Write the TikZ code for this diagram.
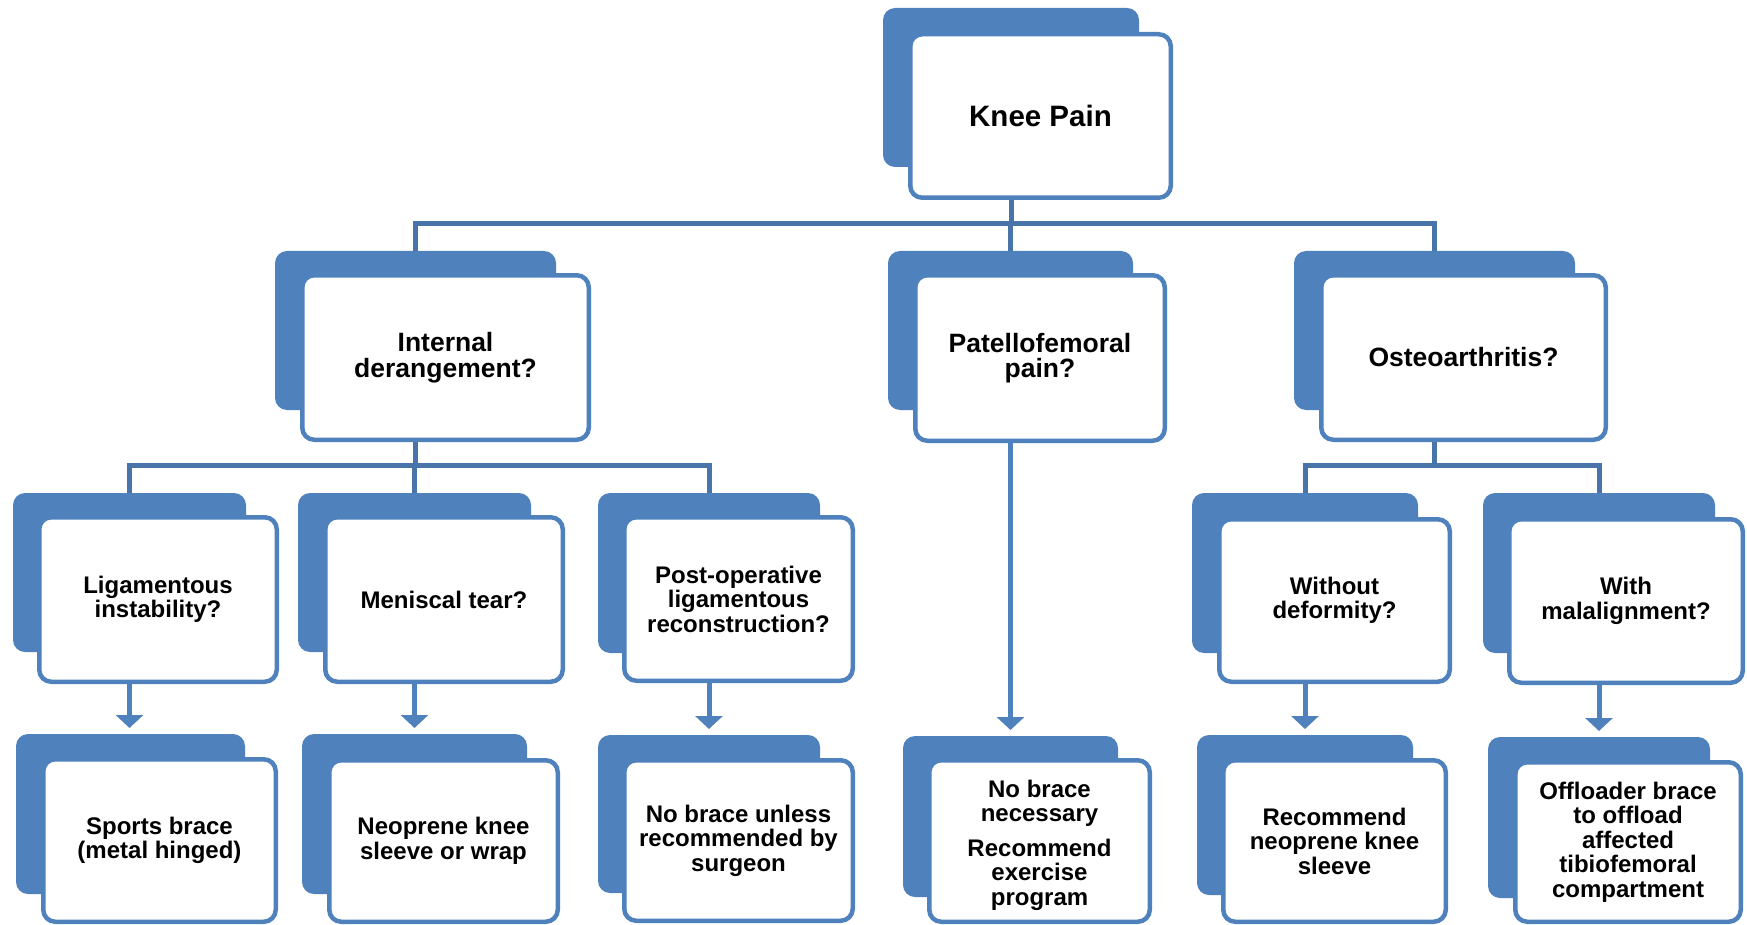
\documentclass[tikz,border=0pt]{standalone}
\usepackage{fontspec}
\setmainfont{Liberation Sans}
\usetikzlibrary{arrows.meta}
\definecolor{acc}{HTML}{4F81BD}
\definecolor{connc}{HTML}{4874AA}
\tikzset{
  backbox/.style n args={4}{fill=acc, draw=none, rounded corners=12pt, inner sep=0pt, outer sep=0pt,
    minimum width={(#3-#1)*1pt}, minimum height={(#4-#2)*1pt},
    at={({(#1+#3)/2},{(#2+#4)/2})}},
  frontbox/.style n args={4}{fill=white, draw=acc, line width=4.5pt, rounded corners=12pt, inner sep=0pt,
    minimum width={(#3-#1-4.5)*1pt}, minimum height={(#4-#2-4.5)*1pt},
    at={({(#1+#3)/2},{(#2+#4)/2})}, align=center, text=black},
  fbig/.style={font=\bfseries\fontsize{29.5}{32}\selectfont},
  fmid/.style={font=\bfseries\fontsize{26.5}{25.5}\selectfont},
  fsmall/.style={font=\bfseries\fontsize{24}{24.5}\selectfont},
  cline/.style={draw=connc, line width=5pt, line join=miter},
  arrowline/.style={draw=acc, line width=5pt, -{Triangle[width=27pt,length=13pt]}, shorten >=6pt},
}
\begin{document}
\begin{tikzpicture}[x=1pt,y=-1pt]
\useasboundingbox (0,0) rectangle (1747,925);
\coordinate (bar1) at (0,224);
\coordinate (bar2) at (0,465);
% level 1
\node[backbox={883}{8}{1139}{167}] (kpB) {};
\node[frontbox={908}{32}{1173}{200}, fbig] (kp) {Knee Pain};
% level 2
\node[backbox={275}{251}{556}{410}] (idB) {};
\node[frontbox={300}{273}{591}{442}, fmid] (id) {Internal\\derangement?};
\node[backbox={888}{251}{1133}{410}] (pfB) {};
\node[frontbox={913}{273}{1167}{443}, fmid] (pf) {Patellofemoral\\pain?};
\node[backbox={1294}{251}{1575}{410}] (oaB) {};
\node[frontbox={1319}{273}{1608}{442}, fmid] (oa) {Osteoarthritis?};
% level 3
\node[backbox={13}{493}{246}{652}] (ligB) {};
\node[frontbox={37}{515}{279}{684}, fsmall] (lig) {Ligamentous\\instability?};
\node[backbox={298}{493}{531}{652}] (menB) {};
\node[frontbox={323}{515}{565}{684}, fsmall] (men) {Meniscal tear?};
\node[backbox={598}{493}{820}{653}] (postB) {};
\node[frontbox={622}{515}{855}{683}, fsmall] (post) {Post-operative\\ligamentous\\reconstruction?};
\node[backbox={1192}{493}{1418}{653}] (woB) {};
\node[frontbox={1217}{517}{1452}{684}, fsmall] (wo) {Without\\deformity?};
\node[backbox={1483}{493}{1715}{653}] (wiB) {};
\node[frontbox={1507}{517}{1745}{685}, fsmall] (wi) {With\\malalignment?};
% level 4
\node[backbox={16}{734}{245}{894}] (spB) {};
\node[frontbox={41}{757}{278}{924}, fsmall] (sp) {Sports brace\\(metal hinged)};
\node[backbox={302}{734}{527}{894}] (neoB) {};
\node[frontbox={327}{758}{560}{924}, fsmall] (neo) {Neoprene knee\\sleeve or wrap};
\node[backbox={598}{735}{820}{893}] (nbuB) {};
\node[frontbox={622}{758}{855}{923}, fsmall] (nbu) {No brace unless\\recommended by\\surgeon};
\node[backbox={903}{736}{1118}{897}] (nbnB) {};
\node[frontbox={927}{758}{1152}{924}, fsmall] (nbn) {\rule{0pt}{26pt}No brace\\necessary\\[10pt]Recommend\\exercise\\program};
\node[backbox={1197}{735}{1413}{895}] (rnB) {};
\node[frontbox={1221}{758}{1448}{924}, fsmall] (rn) {Recommend\\neoprene knee\\sleeve};
\node[backbox={1488}{737}{1710}{898}] (offB) {};
\node[frontbox={1513}{760}{1743}{924}, fsmall] (off) {Offloader brace\\to offload\\affected\\tibiofemoral\\compartment};
% connectors level 1 -> 2
\draw[cline] (kp.south -| kpB.center) -- (kpB.center |- bar1);
\draw[cline] (idB.north) -- (idB.center |- bar1) -- (oaB.center |- bar1) -- (oaB.north);
\draw[cline] (pfB.center |- bar1) -- (pfB.north);
% connectors internal derangement -> level 3
\draw[cline] (id.south -| idB.center) -- (idB.center |- bar2);
\draw[cline] (ligB.north) -- (ligB.center |- bar2) -- (postB.center |- bar2) -- (postB.north);
\draw[cline] (menB.center |- bar2) -- (menB.north);
% connectors osteoarthritis -> level 3
\draw[cline] (oa.south -| oaB.center) -- (oaB.center |- bar2);
\draw[cline] (woB.north) -- (woB.center |- bar2) -- (wiB.center |- bar2) -- (wiB.north);
% arrows to level 4
\draw[arrowline] (lig.south -| ligB.center) -- (spB.north -| ligB.center);
\draw[arrowline] (men.south -| menB.center) -- (neoB.north -| menB.center);
\draw[arrowline] (post.south -| postB.center) -- (nbuB.north -| postB.center);
\draw[arrowline] (pf.south -| pfB.center) -- (nbnB.north -| pfB.center);
\draw[arrowline] (wo.south -| woB.center) -- (rnB.north -| woB.center);
\draw[arrowline] (wi.south -| wiB.center) -- (offB.north -| wiB.center);
\end{tikzpicture}
\end{document}
